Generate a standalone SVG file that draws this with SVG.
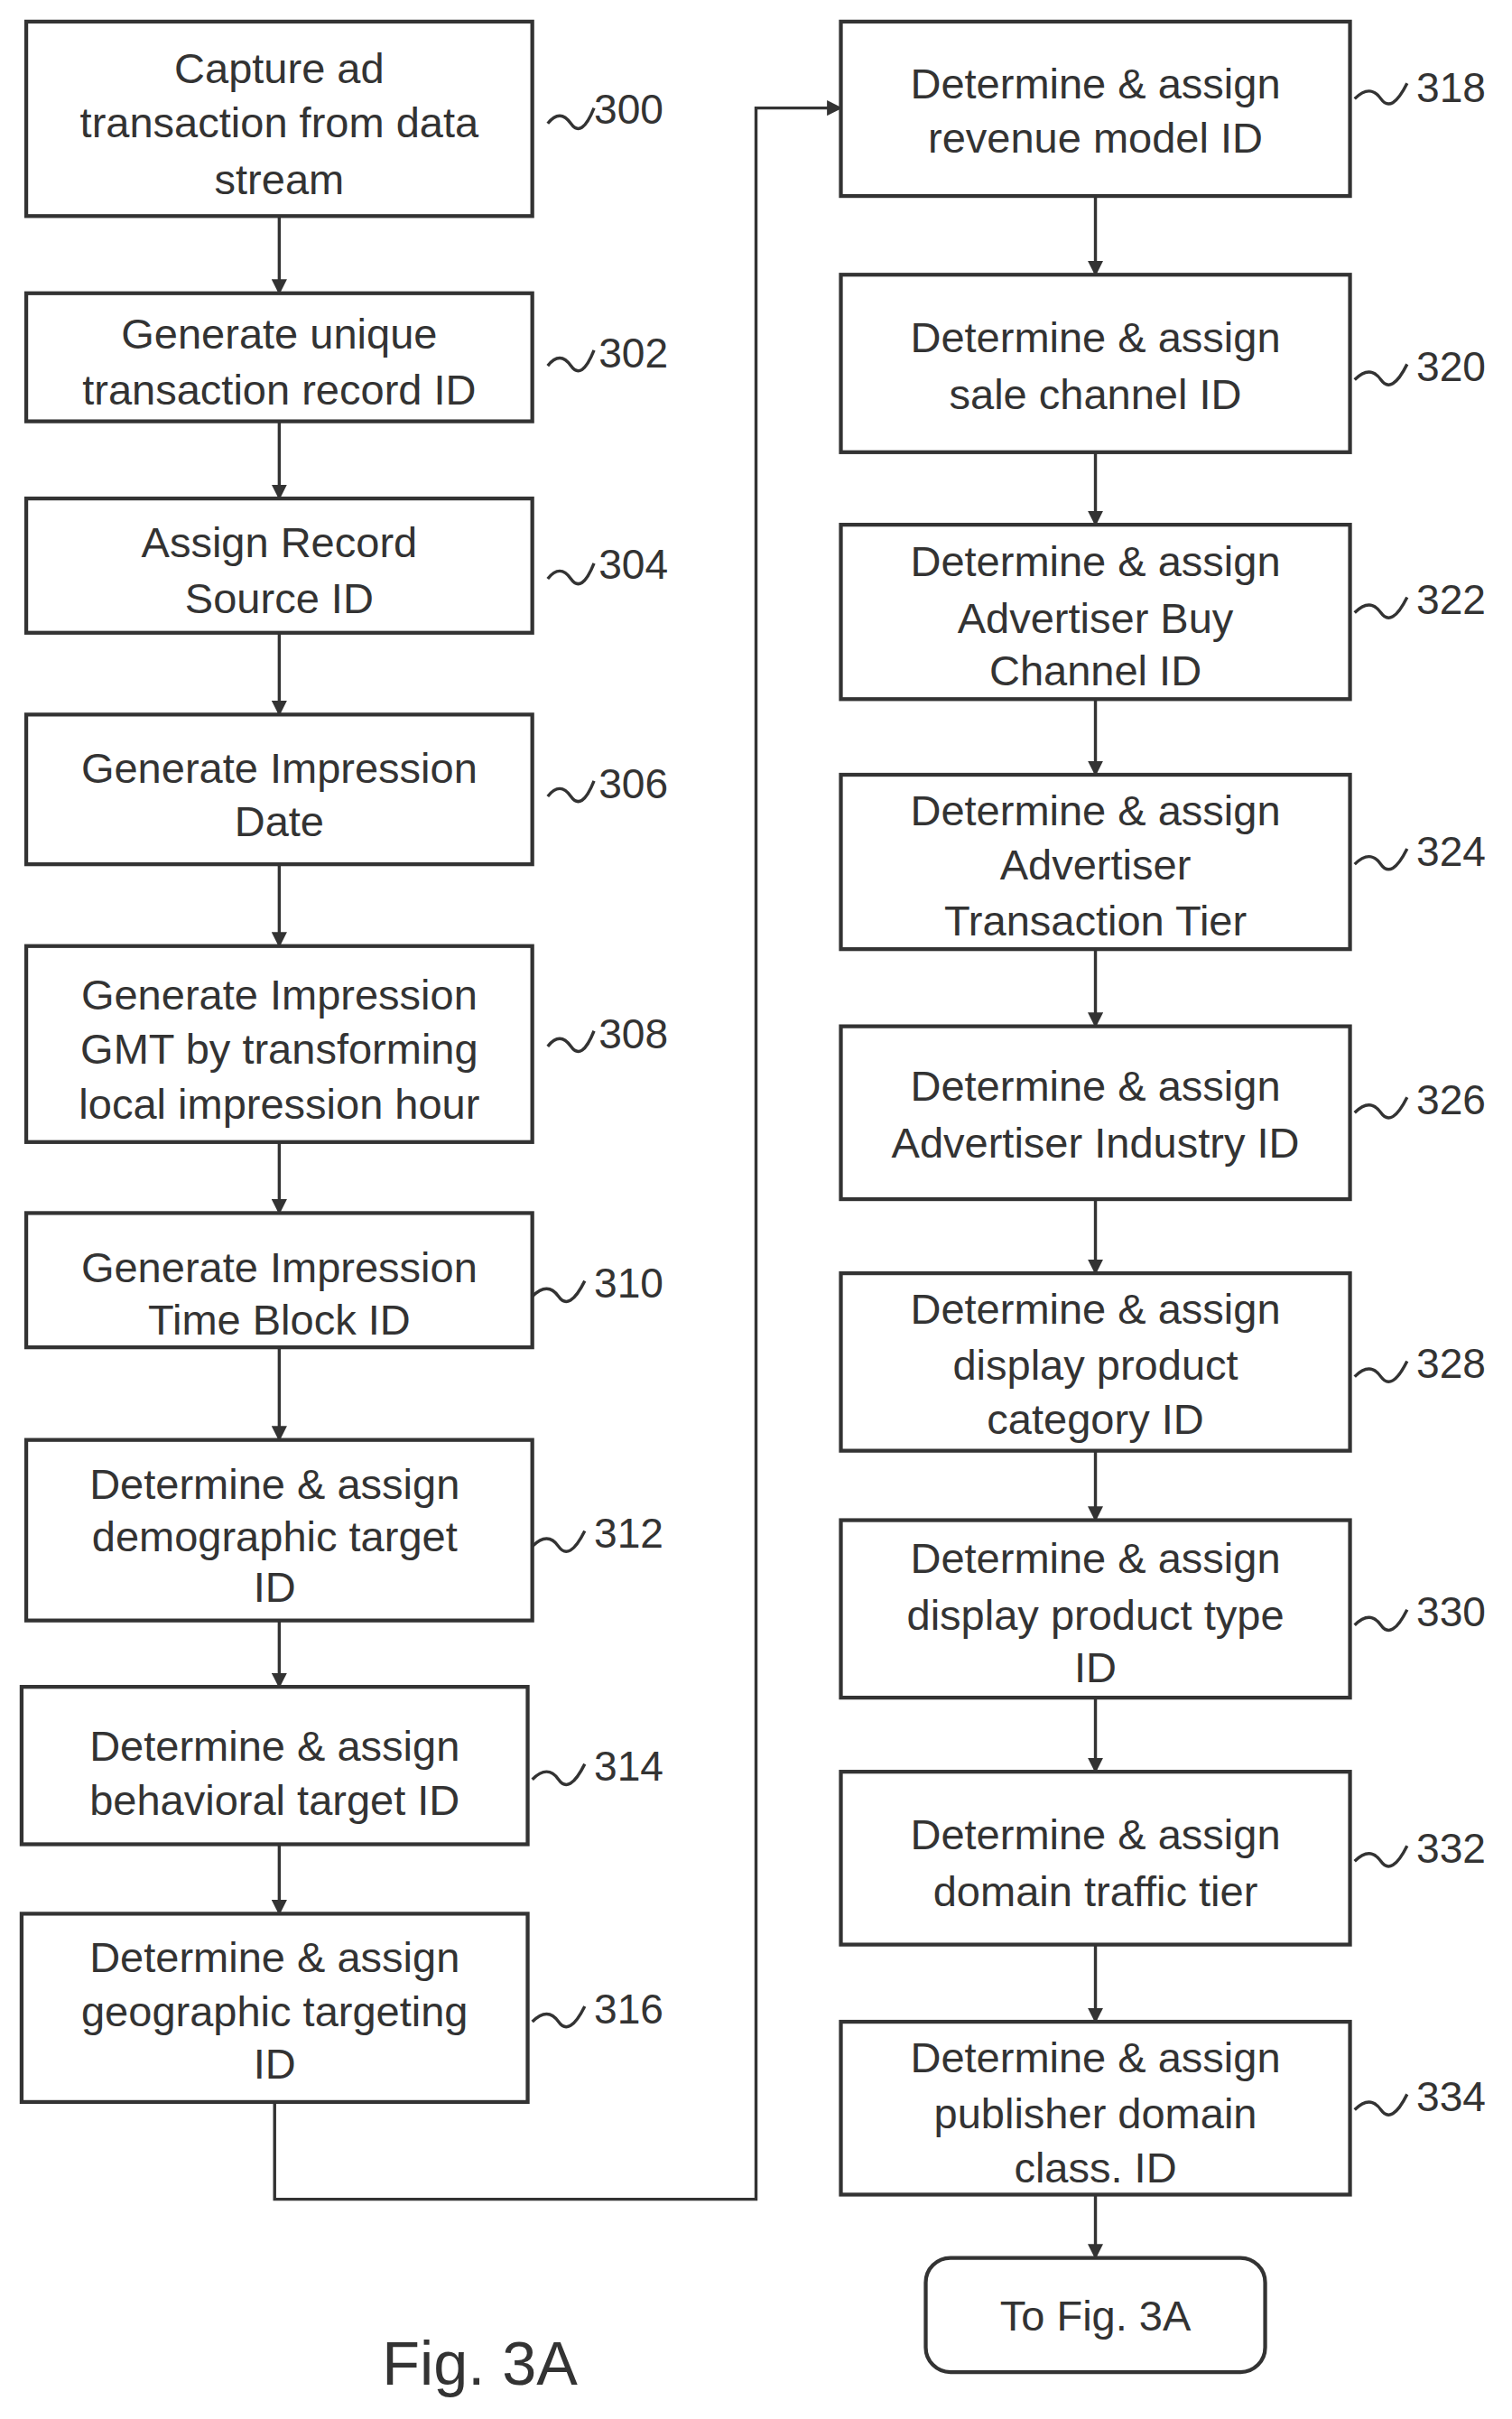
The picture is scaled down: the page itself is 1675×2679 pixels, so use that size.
<svg xmlns="http://www.w3.org/2000/svg" width="1675" height="2679" viewBox="0 0 1675 2679">
<defs>
<marker id="ah" markerWidth="10" markerHeight="10" refX="9" refY="5" orient="auto" markerUnits="userSpaceOnUse"><path d="M0,0 L10,5 L0,10 z" fill="#333"/></marker>
<style>
.b{fill:#fff;stroke:#333;stroke-width:2.5}
.t{font-family:"Liberation Sans",Arial,sans-serif;font-size:27.5px;fill:#333;text-anchor:middle}
.n{font-family:"Liberation Sans",Arial,sans-serif;font-size:27px;fill:#333}
.s{fill:none;stroke:#333;stroke-width:2}
.c{fill:none;stroke:#333;stroke-width:2;marker-end:url(#ah)}
</style>
</defs>
<rect width="1675" height="2679" fill="#fff"/>
<g transform="scale(1.7092)">
<g id="connectors">
<path class="c" d="M181 140V190"/><path class="c" d="M181 273V323"/><path class="c" d="M181 410V463"/>
<path class="c" d="M181 560V613"/><path class="c" d="M181 740V786"/><path class="c" d="M181 873V933"/>
<path class="c" d="M181 1050V1093"/><path class="c" d="M181 1195V1240"/>
<path class="c" d="M178 1362V1425H490V70H545"/>
<path class="c" d="M710 127V178"/><path class="c" d="M710 293V340"/><path class="c" d="M710 453V502"/>
<path class="c" d="M710 615V665"/><path class="c" d="M710 777V825"/><path class="c" d="M710 940V985"/>
<path class="c" d="M710 1100V1148"/><path class="c" d="M710 1260V1310"/><path class="c" d="M710 1422V1463"/>
</g>
<g id="n300"><rect class="b" x="17" y="14" width="328" height="126"/><text class="t" x="181" y="54">Capture ad</text><text class="t" x="181" y="89">transaction from data</text><text class="t" x="181" y="126">stream</text><path class="s" d="M355 80q8 -10 15 0t15 -10"/><text class="n" x="385" y="80">300</text></g>
<g id="n302"><rect class="b" x="17" y="190" width="328" height="83"/><text class="t" x="181" y="226">Generate unique</text><text class="t" x="181" y="262">transaction record ID</text><path class="s" d="M355 237q8 -10 15 0t15 -10"/><text class="n" x="388" y="238">302</text></g>
<g id="n304"><rect class="b" x="17" y="323" width="328" height="87"/><text class="t" x="181" y="361">Assign Record</text><text class="t" x="181" y="397">Source ID</text><path class="s" d="M355 375q8 -10 15 0t15 -10"/><text class="n" x="388" y="375">304</text></g>
<g id="n306"><rect class="b" x="17" y="463" width="328" height="97"/><text class="t" x="181" y="507">Generate Impression</text><text class="t" x="181" y="542">Date</text><path class="s" d="M355 516q8 -10 15 0t15 -10"/><text class="n" x="388" y="517">306</text></g>
<g id="n308"><rect class="b" x="17" y="613" width="328" height="127"/><text class="t" x="181" y="654">Generate Impression</text><text class="t" x="181" y="689">GMT by transforming</text><text class="t" x="181" y="725">local impression hour</text><path class="s" d="M355 678q8 -10 15 0t15 -10"/><text class="n" x="388" y="679">308</text></g>
<g id="n310"><rect class="b" x="17" y="786" width="328" height="87"/><text class="t" x="181" y="831">Generate Impression</text><text class="t" x="181" y="865">Time Block ID</text><path class="s" d="M345 840q10 -10 17 0t17 -10"/><text class="n" x="385" y="841">310</text></g>
<g id="n312"><rect class="b" x="17" y="933" width="328" height="117"/><text class="t" x="178" y="971">Determine &amp; assign</text><text class="t" x="178" y="1005">demographic target</text><text class="t" x="178" y="1038">ID</text><path class="s" d="M345 1002q10 -10 17 0t17 -10"/><text class="n" x="385" y="1003">312</text></g>
<g id="n314"><rect class="b" x="14" y="1093" width="328" height="102"/><text class="t" x="178" y="1141">Determine &amp; assign</text><text class="t" x="178" y="1176">behavioral target ID</text><path class="s" d="M345 1153q10 -10 17 0t17 -10"/><text class="n" x="385" y="1154">314</text></g>
<g id="n316"><rect class="b" x="14" y="1240" width="328" height="122"/><text class="t" x="178" y="1278">Determine &amp; assign</text><text class="t" x="178" y="1313">geographic targeting</text><text class="t" x="178" y="1347">ID</text><path class="s" d="M345 1310q10 -10 17 0t17 -10"/><text class="n" x="385" y="1311">316</text></g>
<g id="n318"><rect class="b" x="545" y="14" width="330" height="113"/><text class="t" x="710" y="64">Determine &amp; assign</text><text class="t" x="710" y="99">revenue model ID</text><path class="s" d="M878 64q10 -10 17 0t17 -10"/><text class="n" x="918" y="66">318</text></g>
<g id="n320"><rect class="b" x="545" y="178" width="330" height="115"/><text class="t" x="710" y="228">Determine &amp; assign</text><text class="t" x="710" y="265">sale channel ID</text><path class="s" d="M878 246q10 -10 17 0t17 -10"/><text class="n" x="918" y="247">320</text></g>
<g id="n322"><rect class="b" x="545" y="340" width="330" height="113"/><text class="t" x="710" y="373">Determine &amp; assign</text><text class="t" x="710" y="410">Advertiser Buy</text><text class="t" x="710" y="444">Channel ID</text><path class="s" d="M878 397q10 -10 17 0t17 -10"/><text class="n" x="918" y="398">322</text></g>
<g id="n324"><rect class="b" x="545" y="502" width="330" height="113"/><text class="t" x="710" y="535">Determine &amp; assign</text><text class="t" x="710" y="570">Advertiser</text><text class="t" x="710" y="606">Transaction Tier</text><path class="s" d="M878 560q10 -10 17 0t17 -10"/><text class="n" x="918" y="561">324</text></g>
<g id="n326"><rect class="b" x="545" y="665" width="330" height="112"/><text class="t" x="710" y="713">Determine &amp; assign</text><text class="t" x="710" y="750">Advertiser Industry ID</text><path class="s" d="M878 721q10 -10 17 0t17 -10"/><text class="n" x="918" y="722">326</text></g>
<g id="n328"><rect class="b" x="545" y="825" width="330" height="115"/><text class="t" x="710" y="858">Determine &amp; assign</text><text class="t" x="710" y="894">display product</text><text class="t" x="710" y="929">category ID</text><path class="s" d="M878 892q10 -10 17 0t17 -10"/><text class="n" x="918" y="893">328</text></g>
<g id="n330"><rect class="b" x="545" y="985" width="330" height="115"/><text class="t" x="710" y="1019">Determine &amp; assign</text><text class="t" x="710" y="1056">display product type</text><text class="t" x="710" y="1090">ID</text><path class="s" d="M878 1053q10 -10 17 0t17 -10"/><text class="n" x="918" y="1054">330</text></g>
<g id="n332"><rect class="b" x="545" y="1148" width="330" height="112"/><text class="t" x="710" y="1198">Determine &amp; assign</text><text class="t" x="710" y="1235">domain traffic tier</text><path class="s" d="M878 1206q10 -10 17 0t17 -10"/><text class="n" x="918" y="1207">332</text></g>
<g id="n334"><rect class="b" x="545" y="1310" width="330" height="112"/><text class="t" x="710" y="1343">Determine &amp; assign</text><text class="t" x="710" y="1379">publisher domain</text><text class="t" x="710" y="1414">class. ID</text><path class="s" d="M878 1367q10 -10 17 0t17 -10"/><text class="n" x="918" y="1368">334</text></g>
<g id="toFig"><rect class="b" x="600" y="1463" width="220" height="74" rx="16"/><text class="t" x="710" y="1510">To Fig. 3A</text></g>
<text x="311" y="1545" style="font-family:'Liberation Sans',Arial,sans-serif;font-size:40px;fill:#333;text-anchor:middle">Fig. 3A</text>
</g>
</svg>
